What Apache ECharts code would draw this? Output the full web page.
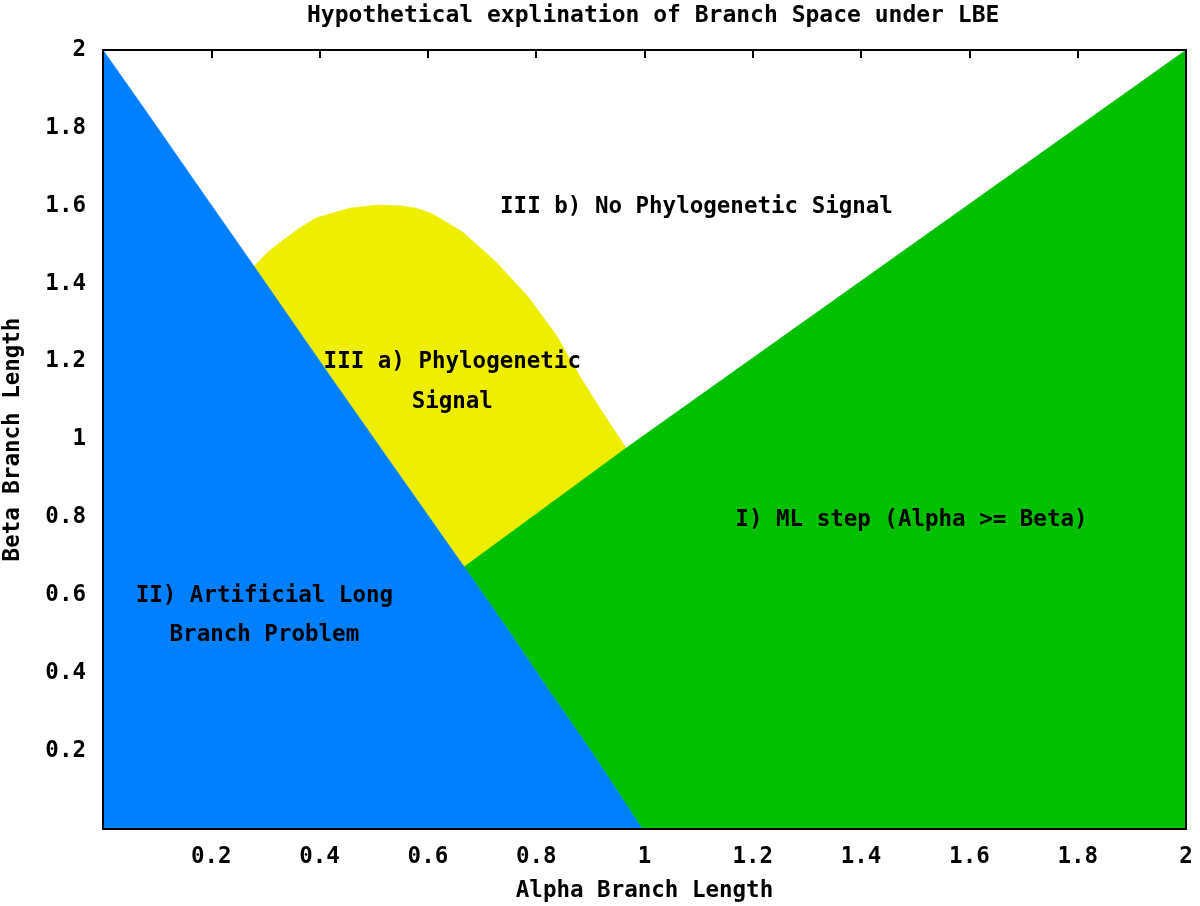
<!DOCTYPE html>
<html>
<head>
<meta charset="utf-8">
<script src="https://cdn.jsdelivr.net/npm/echarts@6/dist/echarts.min.js"></script>
<style>html,body{margin:0;padding:0;background:#fff}#c{width:1200px;height:906px}</style>
</head>
<body>
<div id="c"></div>
<script>
// Region boundaries, as [alpha, beta] pairs
const blueBoundary = [[0,2],[0.086,1.830],[0.178,1.646],[0.279,1.445],[0.37,1.262],[0.43,1.142],[0.49,1.023],[0.575,0.855],[0.667,0.673],[0.75,0.508],[0.824,0.355],[0.904,0.195],[0.996,0]];
const yellowCurve = [[0.279,1.445],[0.305,1.482],[0.331,1.51],[0.363,1.543],[0.394,1.569],[0.455,1.594],[0.505,1.602],[0.55,1.6],[0.579,1.594],[0.61,1.578],[0.664,1.533],[0.726,1.456],[0.787,1.363],[0.837,1.268],[0.879,1.166],[0.922,1.071],[0.966,0.978]];
const diagonal = [[0.667,0.673],[0.966,0.978],[2,2]];
const corners = {origin:[0,0], bottomRight:[2,0]};
const regionLabels = [
  {text:'III b) No Phylogenetic Signal', at:[1.096,1.597]},
  {text:'III a) Phylogenetic', at:[0.645,1.199]},
  {text:'Signal', at:[0.645,1.096]},
  {text:'I) ML step (Alpha >= Beta)', at:[1.493,0.793]},
  {text:'II) Artificial Long', at:[0.298,0.598]},
  {text:'Branch Problem', at:[0.298,0.498]}
];

// polygons built from the boundaries
const bluePoly = [corners.origin].concat(blueBoundary);
const lowerBlue = blueBoundary.filter(p => p[1] < 0.673);
const greenPoly = diagonal.concat([corners.bottomRight]).concat(lowerBlue.slice().reverse());
const upperBlueMid = blueBoundary.filter(p => p[1] > 0.673 && p[1] < 1.445);
const yellowPoly = yellowCurve.concat([diagonal[0]]).concat(upperBlueMid.slice().reverse());

const FONT = 'DejaVu Sans Mono';
const FS = 22.5;
const txt = {fontFamily: FONT, fontWeight: 'bold', fontSize: FS, color: '#000'};

function polySeries(poly, color) {
  return {
    type: 'custom',
    coordinateSystem: 'cartesian2d',
    data: [[0,0]],
    silent: true,
    z: 1,
    renderItem: function (params, api) {
      return {type: 'polygon', shape: {points: poly.map(p => api.coord(p))}, style: {fill: color, stroke: color, lineWidth: 0.5}};
    }
  };
}

const labelSeries = {
  type: 'custom',
  coordinateSystem: 'cartesian2d',
  data: regionLabels.map(l => l.at),
  silent: true,
  z: 5,
  renderItem: function (params, api) {
    const c = api.coord([api.value(0), api.value(1)]);
    return {type: 'text', x: c[0], y: c[1], style: {
      text: regionLabels[params.dataIndex].text, fill: '#000',
      font: 'bold ' + FS + 'px "' + FONT + '"', align: 'center', verticalAlign: 'middle'}};
  }
};

const fmt = v => (v === 0 ? '' : String(+v.toFixed(1)));
const axisLine = {show: true, onZero: false, lineStyle: {color: '#000', width: 2}};

const chart = echarts.init(document.getElementById('c'));
chart.setOption({
  backgroundColor: '#fff',
  animation: false,
  title: {text: 'Hypothetical explination of Branch Space under LBE', left: 302, top: 0, textStyle: {...txt, fontSize: 23}},
  grid: {left: 103, right: 14, top: 50, bottom: 77, outerBoundsMode: 'none', containLabel: false},
  xAxis: [
    {type: 'value', min: 0, max: 2, interval: 0.2, position: 'bottom', z: 10,
     axisLine, axisTick: {show: false}, splitLine: {show: false},
     axisLabel: {...txt, margin: 17, formatter: fmt},
     name: 'Alpha Branch Length', nameLocation: 'middle', nameGap: 51, nameTextStyle: txt},
    {type: 'value', min: 0, max: 2, interval: 0.2, position: 'top', z: 10,
     axisLine, axisTick: {show: true, inside: true, length: 8, lineStyle: {color: '#000', width: 2}},
     splitLine: {show: false}, axisLabel: {show: false}}
  ],
  yAxis: [
    {type: 'value', min: 0, max: 2, interval: 0.2, position: 'left', z: 10,
     axisLine, axisTick: {show: false}, splitLine: {show: false},
     axisLabel: {...txt, margin: 17, formatter: fmt},
     name: 'Beta Branch Length', nameLocation: 'middle', nameGap: 78, nameTextStyle: txt},
    {type: 'value', min: 0, max: 2, interval: 0.2, position: 'right', z: 10,
     axisLine, axisTick: {show: false}, splitLine: {show: false}, axisLabel: {show: false}}
  ],
  series: [
    polySeries(yellowPoly, '#eeee00'),
    polySeries(greenPoly, '#00c000'),
    polySeries(bluePoly, '#0080ff'),
    labelSeries
  ]
});
</script>
</body>
</html>
